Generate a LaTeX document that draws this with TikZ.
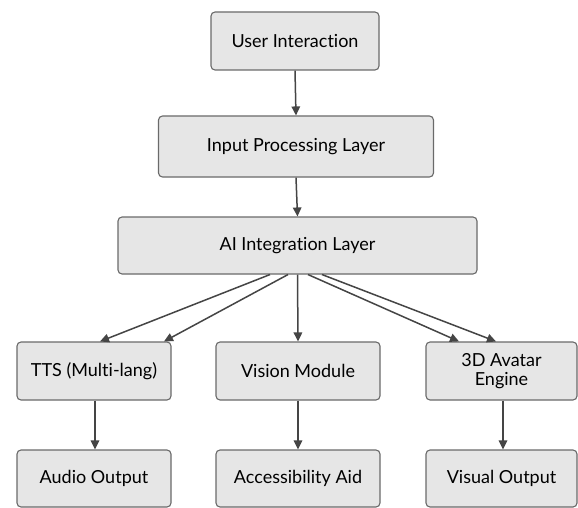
\documentclass[tikz,border=0pt]{standalone}
\usepackage{fontspec}
\setmainfont[Ligatures=NoCommon]{Lato}
\usepackage{tikz}
\usetikzlibrary{arrows.meta}
\definecolor{boxgray}{HTML}{E6E6E6}
\definecolor{edgegray}{HTML}{6A6A6A}
\definecolor{arrgray}{HTML}{454545}
\newcommand{\fillcol}{boxgray}
\newcommand{\edgecol}{edgegray}
\newcommand{\arrcol}{arrgray}

\begin{document}
\begin{tikzpicture}[x=1pt, y=-1pt,
    layer/.style={draw=\edgecol, fill=\fillcol, line width=1.1pt, rounded corners=4pt,
      align=center, inner sep=0pt, text=black,
      font=\fontsize{18}{19}\selectfont},
    flow/.style={draw=\arrcol, line width=1.5pt,
      -{Triangle[length=9pt, width=8.5pt]}}]

    \useasboundingbox[fill=white] (0, 0) rectangle (578, 508);

    % couches du haut
    \node[layer, minimum width=168pt, minimum height=58pt] (user) at (295, 41) {User Interaction};
    \node[layer, minimum width=275pt, minimum height=61pt] (input) at (296, 146.5) {Input Processing Layer};
    \node[layer, minimum width=359pt, minimum height=57pt] (ai) at (297.5, 245.5) {AI Integration Layer};

    % modules
    \node[layer, minimum width=154pt, minimum height=58pt] (tts) at (94, 371) {TTS (Multi-lang)};
    \node[layer, minimum width=164pt, minimum height=58pt] (vision) at (298, 371) {Vision Module};
    \node[layer, minimum width=151pt, minimum height=58pt] (avatar) at (501.5, 371) {3D Avatar\\Engine};

    % sorties
    \node[layer, minimum width=154pt, minimum height=57pt] (audio) at (94, 478.5) {Audio Output};
    \node[layer, minimum width=164pt, minimum height=57pt] (access) at (298, 478.5) {Accessibility Aid};
    \node[layer, minimum width=151pt, minimum height=57pt] (visual) at (501.5, 478.5) {Visual Output};

    \draw[flow] (user.south) -- (input.north);
    \draw[flow] (input.south) -- (ai.north);

    \draw[flow] ([xshift=-27.5pt]ai.south) -- ([xshift=6pt]tts.north);
    \draw[flow] ([xshift=-9.5pt]ai.south) -- ([xshift=70pt]tts.north);
    \draw[flow] (ai.south) -- (vision.north);
    \draw[flow] ([xshift=10.5pt]ai.south) -- ([xshift=-42.5pt]avatar.north);
    \draw[flow] ([xshift=24.5pt]ai.south) -- ([xshift=-5.5pt]avatar.north);

    \draw[flow] ([xshift=1pt]tts.south) -- ([xshift=1pt]audio.north);
    \draw[flow] (vision.south) -- (access.north);
    \draw[flow] ([xshift=1.5pt]avatar.south) -- ([xshift=1.5pt]visual.north);

\end{tikzpicture}
\end{document}
